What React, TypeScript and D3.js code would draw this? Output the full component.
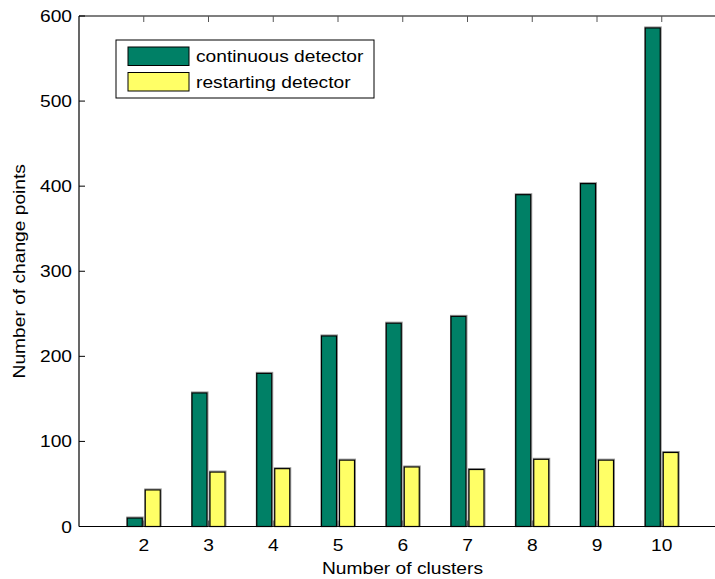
import React from "react";
import * as d3 from "d3";

const categories = [2, 3, 4, 5, 6, 7, 8, 9, 10];
const continuousValues = [10, 157, 180, 224, 239, 247, 390, 403, 586];
const restartingValues = [43, 64, 68, 78, 70, 67, 79, 78, 87];
const yTicks = [0, 100, 200, 300, 400, 500, 600];
const seriesNames = ["continuous detector", "restarting detector"];
const seriesColors = ["#008066", "#FFFF66"];

const W = 715;
const H = 579;
const FONT = "'Liberation Sans', Arial, Helvetica, sans-serif";
const SX = 1.2;

function T({ x, y, anchor = "start", rotate = 0, children }: any) {
  return (
    <g transform={`translate(${x},${y}) rotate(${rotate}) scale(${SX},1)`}>
      <text x={0} y={0} textAnchor={anchor} fontSize={16} fill="#000">
        {children}
      </text>
    </g>
  );
}

export default function App() {
  const x = d3.scaleLinear().domain([1, 11]).range([79, 726.5]);
  const y = d3.scaleLinear().domain([0, 600]).range([526.5, 16]);
  const barW = 0.232;
  const gap = 0.023;

  const series = [continuousValues, restartingValues];

  return (
    <svg
      width={W}
      height={H}
      style={{ position: "absolute", left: 0, top: 0, background: "#fff" }}
      fontFamily={FONT}
    >
      <rect x={0} y={0} width={W} height={H} fill="#fff" />
      {/* bars */}
      {series.map((vals, si) =>
        vals.map((v, i) => {
          const c = categories[i];
          const x0 = si === 0 ? c - gap - barW : c + gap;
          const x1 = x0 + barW;
          return (
            <g key={`${si}-${i}`}>
              <rect
                x={x(x0) - 0.5}
                y={y(v) - 1}
                width={x(x1) - x(x0) + 1.5}
                height={y(0) - y(v) + 1}
                fill="none"
                stroke="#999"
                strokeWidth={1}
              />
              <rect
                x={x(x0)}
                y={y(v)}
                width={x(x1) - x(x0)}
                height={y(0) - y(v)}
                fill={seriesColors[si]}
                stroke="#000"
                strokeWidth={1.2}
              />
            </g>
          );
        })
      )}
      {/* axes box */}
      <line x1={x(1)} x2={W} y1={y(0)} y2={y(0)} stroke="#000" strokeWidth={1.2} />
      <line x1={x(1)} x2={W} y1={y(600)} y2={y(600)} stroke="#000" strokeWidth={1.2} />
      <line x1={x(1)} x2={x(1)} y1={y(0)} y2={y(600)} stroke="#000" strokeWidth={1.2} />
      {/* x ticks */}
      {categories.map((c) => (
        <g key={`xt-${c}`}>
          <line x1={x(c)} x2={x(c)} y1={y(0)} y2={y(0) - 6} stroke="#555" strokeWidth={1} />
          <line x1={x(c)} x2={x(c)} y1={y(600)} y2={y(600) + 6} stroke="#555" strokeWidth={1} />
          <T x={x(c)} y={y(0) + 24} anchor="middle">
            {c}
          </T>
        </g>
      ))}
      {/* y ticks */}
      {yTicks.map((t) => (
        <g key={`yt-${t}`}>
          <line x1={x(1)} x2={x(1) + 6} y1={y(t)} y2={y(t)} stroke="#000" strokeWidth={1} />
          <T x={x(1) - 7} y={y(t) + 6} anchor="end">
            {t}
          </T>
        </g>
      ))}
      {/* axis labels */}
      <T x={402.5} y={574} anchor="middle">
        Number of clusters
      </T>
      <T x={25} y={(y(0) + y(600)) / 2} anchor="middle" rotate={-90}>
        Number of change points
      </T>
      {/* legend */}
      <rect x={116} y={40} width={258} height={58} fill="#fff" stroke="#000" strokeWidth={1} />
      {seriesNames.map((name, i) => (
        <g key={name}>
          <rect
            x={128}
            y={47 + i * 25.5}
            width={61}
            height={18.5}
            fill={seriesColors[i]}
            stroke="#000"
            strokeWidth={1}
          />
          <T x={196} y={62 + i * 25.5}>
            {name}
          </T>
        </g>
      ))}
    </svg>
  );
}
